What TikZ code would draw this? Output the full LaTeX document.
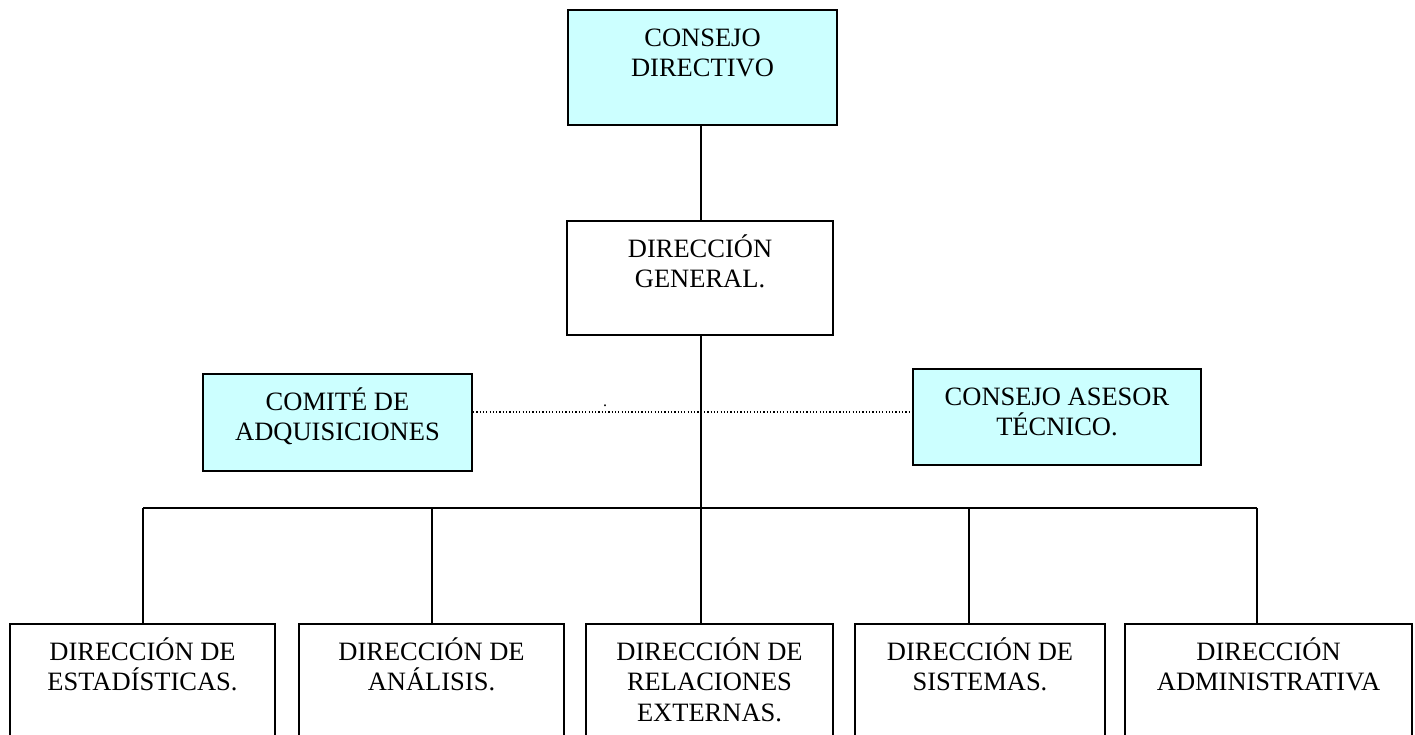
\documentclass[tikz,border=0pt]{standalone}
\usepackage{fontspec}
\setmainfont{Liberation Serif}
\usetikzlibrary{positioning}
\definecolor{celeste}{HTML}{CCFFFF}
\tikzset{
  caja/.style={draw, line width=2pt, inner sep=0pt, anchor=north west},
  cajacel/.style={caja, fill=celeste},
  rotulo/.style={anchor=base, align=center, inner sep=0pt, font=\fontsize{26.5}{30.5}\selectfont},
  dos/.style={rotulo, yshift=-67.5pt},
  tres/.style={rotulo, yshift=-98pt},
  linea/.style={line width=2pt},
  punteada/.style={line width=1.4pt, dash pattern=on 1.2pt off 2.1pt},
}
\begin{document}
\begin{tikzpicture}[x=1pt, y=-1pt]
    \useasboundingbox (0,0) rectangle (1415,734);
    \clip (0,0) rectangle (1415,734);
    \node[cajacel, minimum width=269pt, minimum height=115pt] (cd) at (567,9) {};
    \node[caja, minimum width=266pt, minimum height=114pt] (dg) at (566,220) {};
    \node[cajacel, minimum width=269pt, minimum height=97pt] (com) at (202,373) {};
    \node[cajacel, minimum width=288pt, minimum height=96pt] (cat) at (912,368) {};
    \node[caja, minimum width=265pt, minimum height=130pt] (est) at (9,623) {};
    \node[caja, minimum width=265pt, minimum height=130pt] (ana) at (298,623) {};
    \node[caja, minimum width=247pt, minimum height=130pt] (rel) at (585,623) {};
    \node[caja, minimum width=250pt, minimum height=130pt] (sis) at (854,623) {};
    \node[caja, minimum width=287pt, minimum height=130pt] (adm) at (1124,623) {};
    \node[dos] (cd-t) at (cd.north) {CONSEJO\\DIRECTIVO};
    \node[dos] (dg-t) at (dg.north) {DIRECCIÓN\\GENERAL.};
    \node[dos] (com-t) at (com.north) {COMITÉ DE\\ADQUISICIONES};
    \node[dos] (cat-t) at (cat.north) {CONSEJO ASESOR\\TÉCNICO.};
    \node[dos] (est-t) at (est.north) {DIRECCIÓN DE\\ESTADÍSTICAS.};
    \node[dos] (ana-t) at (ana.north) {DIRECCIÓN DE\\ANÁLISIS.};
    \node[tres] (rel-t) at (rel.north) {DIRECCIÓN DE\\RELACIONES\\EXTERNAS.};
    \node[dos] (sis-t) at (sis.north) {DIRECCIÓN DE\\SISTEMAS.};
    \node[dos] (adm-t) at (adm.north) {DIRECCIÓN\\ADMINISTRATIVA};
    \node[inner sep=0pt, font=\fontsize{16}{18}\selectfont] (punto) at (605,406) {.};
    \coordinate (eje) at (701,412);
    \coordinate (busi) at (143,508);
    \coordinate (bus2) at (432,508);
    \coordinate (bus4) at (969,508);
    \coordinate (busd) at (1257,508);
    \draw[linea] (eje |- cd.south) -- (eje |- dg.north);
    \draw[linea] (eje |- dg.south) -- (eje |- rel.north);
    \draw[punteada] (eje -| com.east) -- (eje -| cat.west);
    \draw[linea] (busi) -- (busd);
    \draw[linea] (busi) -- (busi |- est.north);
    \draw[linea] (bus2) -- (bus2 |- ana.north);
    \draw[linea] (bus4) -- (bus4 |- sis.north);
    \draw[linea] (busd) -- (busd |- adm.north);
\end{tikzpicture}
\end{document}
